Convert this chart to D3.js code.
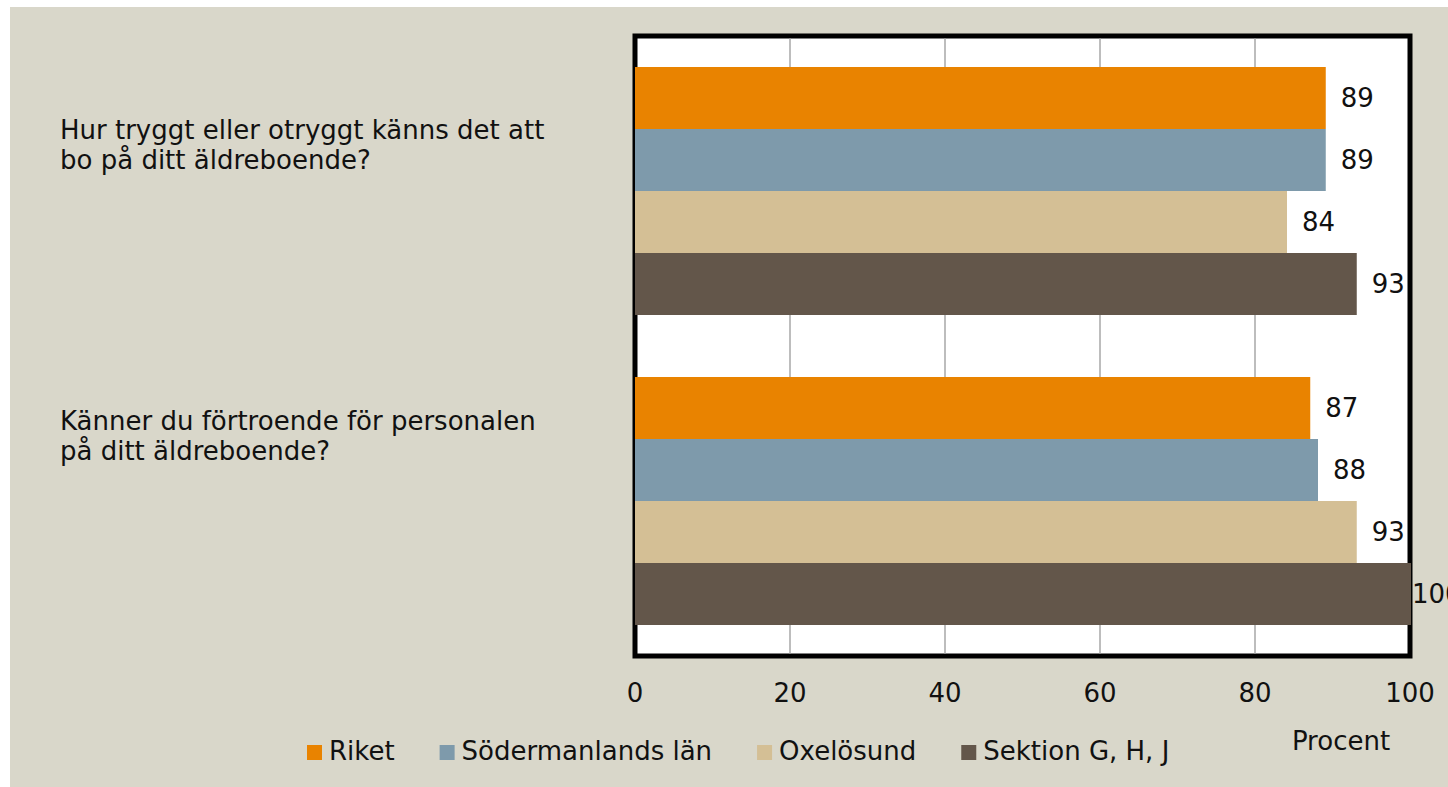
<!DOCTYPE html>
<html>
<head>
<meta charset="utf-8">
<script src="https://cdn.jsdelivr.net/npm/d3@7"></script>
<style>
  body { margin: 0; background: #fff; }
  text { font-family: "DejaVu Sans", sans-serif; fill: #111; }
</style>
</head>
<body>
<div id="chart"></div>
<script>
// data
var questions = [
  ["Hur tryggt eller otryggt känns det att", "bo på ditt äldreboende?"],
  ["Känner du förtroende för personalen", "på ditt äldreboende?"]
];
var series = ["Riket", "Södermanlands län", "Oxelösund", "Sektion G, H, J"];
var colors = ["#e98300", "#7e9aab", "#d4bf95", "#63564a"];
var values = [
  [89, 89, 84, 93],
  [87, 88, 93, 100]
];
var ticks = [0, 20, 40, 60, 80, 100];

var W = 1448, H = 787;
var svg = d3.select("#chart").append("svg")
  .attr("width", W).attr("height", H);

// beige background, white strip top/left
svg.append("rect").attr("x", 10).attr("y", 7)
  .attr("width", W - 10).attr("height", H - 7).attr("fill", "#d9d7ca");

var x = d3.scaleLinear().domain([0, 100]).range([635, 1410]);
var y = d3.scaleBand().domain(d3.range(questions.length))
  .range([36, 656]).paddingInner(0.2).paddingOuter(0.1);
var ys = d3.scaleBand().domain(series).range([0, y.bandwidth()]);
// category labels sit a bit above the group centres
var yl = d3.scalePoint().domain(d3.range(questions.length)).range([139, 430]);

// plot area
svg.append("rect").attr("x", 635).attr("y", 36)
  .attr("width", 1410 - 635).attr("height", 656 - 36)
  .attr("fill", "#fff").attr("stroke", "#000").attr("stroke-width", 5);

// gridlines
svg.selectAll(".grid").data(ticks.filter(t => t > 0 && t < 100))
  .enter().append("line")
  .attr("x1", d => x(d)).attr("x2", d => x(d))
  .attr("y1", 38).attr("y2", 654)
  .attr("stroke", "#9a9a9a").attr("stroke-width", 1.3);

// bars
var groups = svg.selectAll(".grp").data(values).enter().append("g")
  .attr("transform", (d, i) => "translate(0," + y(i) + ")");

groups.selectAll("rect").data(d => d).enter().append("rect")
  .attr("x", x(0))
  .attr("y", (d, j) => ys(series[j]))
  .attr("width", d => x(d) - x(0) + 1)
  .attr("height", ys.bandwidth())
  .attr("fill", (d, j) => colors[j]);

// value labels; the full bar's label sits right at the plot edge
groups.selectAll(".val").data(d => d).enter().append("text")
  .attr("x", d => d >= 100 ? x(d) + 2 : x(d) + 16)
  .attr("y", (d, j) => ys(series[j]) + ys.bandwidth() / 2)
  .attr("dy", "0.36em")
  .style("font-size", "26px")
  .text(d => d);

// category labels
questions.forEach(function(q, i) {
  var t = svg.append("text").attr("x", 60).attr("y", yl(i))
    .style("font-size", "26px");
  q.forEach(function(line, k) {
    t.append("tspan").attr("x", 60).attr("dy", k === 0 ? 0 : 30).text(line);
  });
});

// x axis tick labels
svg.selectAll(".tick").data(ticks).enter().append("text")
  .attr("x", d => x(d)).attr("y", 702)
  .attr("text-anchor", "middle")
  .style("font-size", "26px")
  .text(d => d);

svg.append("text").attr("x", 1341).attr("y", 750)
  .attr("text-anchor", "middle").style("font-size", "26px").text("Procent");

// legend
var lx = 307;
series.forEach(function(s, i) {
  svg.append("rect").attr("x", lx).attr("y", 745)
    .attr("width", 15).attr("height", 15).attr("fill", colors[i]);
  var t = svg.append("text").attr("x", lx + 22).attr("y", 760)
    .style("font-size", "26px").text(s);
  lx += 22 + t.node().getComputedTextLength() + 45;
});
</script>
</body>
</html>
